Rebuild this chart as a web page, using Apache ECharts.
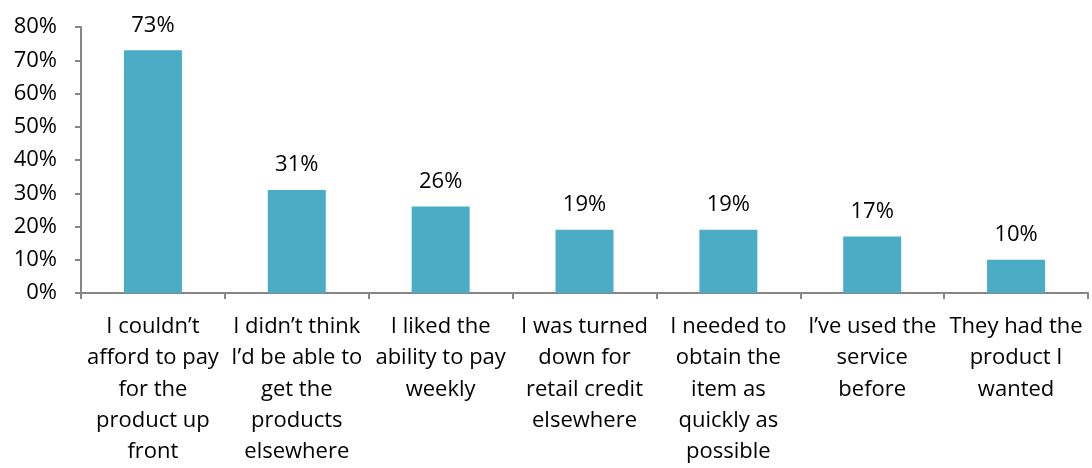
<!DOCTYPE html>
<html>
<head>
<meta charset="utf-8">
<script src="https://cdn.jsdelivr.net/npm/echarts@6/dist/echarts.min.js"></script>
<style>html,body{margin:0;padding:0;background:#fff}#c{width:1092px;height:468px}</style>
</head>
<body>
<div id="c"></div>
<script>
const categories = [
  "I couldn\u2019t\nafford to pay\nfor the\nproduct up\nfront",
  "I didn\u2019t think\nI\u2019d be able to\nget the\nproducts\nelsewhere",
  "I liked the\nability to pay\nweekly",
  "I was turned\ndown for\nretail credit\nelsewhere",
  "I needed to\nobtain the\nitem as\nquickly as\npossible",
  "I\u2019ve used the\nservice\nbefore",
  "They had the\nproduct I\nwanted"
];
const values = [73, 31, 26, 19, 19, 17, 10];
const yTicks = { min: 0, max: 80, interval: 10 };

const FONT = "'Open Sans', sans-serif";
const chart = echarts.init(document.getElementById('c'));
chart.setOption({
  animation: false,
  grid: { left: 81, right: 4, top: 27, bottom: 175, containLabel: false },
  xAxis: {
    type: 'category',
    data: categories,
    axisLine: { lineStyle: { color: '#868686', width: 2 } },
    axisTick: { show: true, length: 6, lineStyle: { color: '#868686', width: 2 } },
    axisLabel: { interval: 0, margin: 18, color: '#000', fontSize: 22, lineHeight: 31.3, fontFamily: FONT }
  },
  yAxis: {
    type: 'value',
    min: yTicks.min, max: yTicks.max, interval: yTicks.interval,
    splitLine: { show: false },
    axisLine: { show: true, lineStyle: { color: '#868686', width: 2 } },
    axisTick: { show: true, length: 6, lineStyle: { color: '#868686', width: 2 } },
    axisLabel: { formatter: '{value}%', margin: 24, color: '#000', fontSize: 22, fontFamily: FONT }
  },
  series: [{
    type: 'bar',
    data: values,
    barWidth: 58,
    itemStyle: { color: '#4BACC6' },
    label: { show: true, position: 'top', distance: 14, formatter: '{c}%', color: '#000', fontSize: 22, fontFamily: FONT }
  }]
});
</script>
</body>
</html>
